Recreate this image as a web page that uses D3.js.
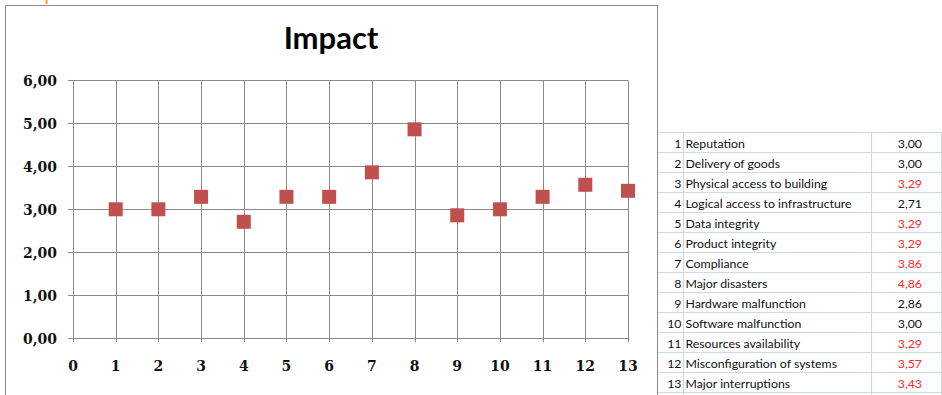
<!DOCTYPE html>
<html>
<head>
<meta charset="utf-8">
<script src="https://cdn.jsdelivr.net/npm/d3@7"></script>
<style>
  html, body { margin: 0; padding: 0; background: #ffffff; }
  svg { display: block; }
</style>
</head>
<body>
<script>
// ---- data ----
const ids = [1, 2, 3, 4, 5, 6, 7, 8, 9, 10, 11, 12, 13];
const categories = [
  "Reputation", "Delivery of goods", "Physical access to building",
  "Logical access to infrastructure", "Data integrity", "Product integrity",
  "Compliance", "Major disasters", "Hardware malfunction",
  "Software malfunction", "Resources availability",
  "Misconfiguration of systems", "Major interruptions"
];
const values = [3.00, 3.00, 3.29, 2.71, 3.29, 3.29, 3.86, 4.86, 2.86, 3.00, 3.29, 3.57, 3.43];
const yTicks = [0, 1, 2, 3, 4, 5, 6];
const xTicks = [0, 1, 2, 3, 4, 5, 6, 7, 8, 9, 10, 11, 12, 13];
const title = "Impact";

const W = 942, H = 395;
const svg = d3.select("body").append("svg").attr("width", W).attr("height", H);

// chart frame
svg.append("rect").attr("x", 5.5).attr("y", 5.5).attr("width", 652).attr("height", 420)
  .attr("fill", "#fff").attr("stroke", "#8c8c8c").attr("stroke-width", 1);
// orange selection mark
svg.append("line").attr("x1", 46.5).attr("x2", 46.5).attr("y1", 0).attr("y2", 4)
  .attr("stroke", "#f0a030").attr("stroke-width", 2);

const x = d3.scaleLinear().domain([0, 13]).range([73, 628]);
const y = d3.scaleLinear().domain([0, 6]).range([338.3, 80.3]);

const g = svg.append("g");
const gridColor = "#8a8a8a";
const axisFont = "'DejaVu Serif', serif";

// horizontal gridlines + y ticks
g.selectAll("line.hg").data(yTicks).join("line")
  .attr("x1", x(0) - 5).attr("x2", x(13))
  .attr("y1", d => Math.round(y(d)) + 0.5).attr("y2", d => Math.round(y(d)) + 0.5)
  .attr("stroke", gridColor).attr("stroke-width", 1);
// vertical gridlines + x ticks
g.selectAll("line.vg").data(xTicks).join("line")
  .attr("x1", d => Math.round(x(d)) + 0.5).attr("x2", d => Math.round(x(d)) + 0.5)
  .attr("y1", y(6)).attr("y2", y(0) + 4)
  .attr("stroke", gridColor).attr("stroke-width", 1);

// y labels
g.selectAll("text.yl").data(yTicks).join("text")
  .attr("x", 57).attr("y", d => y(d) + 1)
  .attr("text-anchor", "end").attr("dominant-baseline", "central")
  .attr("font-family", axisFont).attr("font-weight", "bold").attr("font-size", 14)
  .attr("fill", "#111")
  .text(d => d3.format(".2f")(d).replace(".", ","));
// x labels
g.selectAll("text.xl").data(xTicks).join("text")
  .attr("x", d => x(d)).attr("y", 366)
  .attr("text-anchor", "middle").attr("dominant-baseline", "central")
  .attr("font-family", axisFont).attr("font-weight", "bold").attr("font-size", 14)
  .attr("fill", "#111")
  .text(d => d);

// title
svg.append("text").attr("x", 331).attr("y", 48.5)
  .attr("text-anchor", "middle")
  .attr("font-family", "Lato, sans-serif").attr("font-weight", "bold").attr("font-size", 31)
  .attr("fill", "#000").text(title);

// markers
const ms = 14;
g.selectAll("rect.m").data(values).join("rect")
  .attr("x", (d, i) => x(ids[i]) - ms / 2).attr("y", d => y(d) - ms / 2)
  .attr("width", ms).attr("height", ms)
  .attr("fill", "#c0504d");

// table
const tTop = 132.3, rowH = 20;
const tLeft = 658, c1 = 683.5, c2 = 871.5, tRight = 941.5;
const lineCol = "#d0d7e5";
const tbl = svg.append("g");
const rowsY = d3.range(ids.length + 1).map(i => Math.round(tTop + i * rowH) + 0.5);
tbl.selectAll("line.r").data(rowsY).join("line")
  .attr("x1", tLeft).attr("x2", W).attr("y1", d => d).attr("y2", d => d)
  .attr("stroke", lineCol);
tbl.selectAll("line.c").data([c1, c2, tRight]).join("line")
  .attr("x1", d => d).attr("x2", d => d).attr("y1", rowsY[0]).attr("y2", H)
  .attr("stroke", lineCol);

const tFont = "Lato, sans-serif", tSize = 12.3;
tbl.selectAll("text.id").data(ids).join("text")
  .attr("x", 681.5).attr("y", (d, i) => tTop + i * rowH + 11)
  .attr("text-anchor", "end").attr("dominant-baseline", "central")
  .attr("font-family", tFont).attr("font-size", tSize).attr("fill", "#111")
  .text(d => d);
tbl.selectAll("text.cat").data(categories).join("text")
  .attr("x", 685.5).attr("y", (d, i) => tTop + i * rowH + 11)
  .attr("dominant-baseline", "central")
  .attr("font-family", tFont).attr("font-size", tSize).attr("fill", "#111")
  .text(d => d);
tbl.selectAll("text.val").data(values).join("text")
  .attr("x", 922).attr("y", (d, i) => tTop + i * rowH + 11)
  .attr("text-anchor", "end").attr("dominant-baseline", "central")
  .attr("font-family", tFont).attr("font-size", tSize)
  .attr("fill", d => d > 3 ? "#ff2a2a" : "#111")
  .text(d => d3.format(".2f")(d).replace(".", ","));
</script>
</body>
</html>
